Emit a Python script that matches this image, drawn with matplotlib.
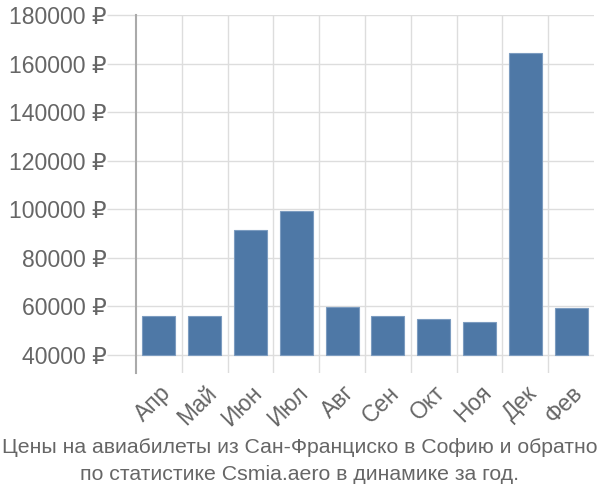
import matplotlib
matplotlib.use('Agg')
import matplotlib.pyplot as plt
from matplotlib.ticker import FixedLocator, FuncFormatter

months = ['Апр', 'Май', 'Июн', 'Июл', 'Авг', 'Сен', 'Окт', 'Ноя', 'Дек', 'Фев']
prices = [56000, 56000, 91300, 99200, 59700, 56000, 54700, 53400, 164200, 59300]
yticks = [40000, 60000, 80000, 100000, 120000, 140000, 160000, 180000]
base = 40000

title = 'Цены на авиабилеты из Сан-Франциско в Софию и обратно\nпо статистике Csmia.aero в динамике за год.'

text_col = '#666666'
grid_col = '#dddddd'

plt.rcParams['font.family'] = ['Liberation Sans', 'DejaVu Sans']

fig = plt.figure(figsize=(6, 5), dpi=100)
ax = fig.add_axes([136 / 600, 1 - 373 / 500, 458 / 600, 358 / 500])

x = list(range(len(months)))
ax.bar(x, [p - base for p in prices], bottom=base, width=0.72,
       color='#4e78a6', edgecolor='#7c9cc0', linewidth=0.8, zorder=3)

ax.set_xlim(-0.5, len(months) - 0.5)
ax.set_ylim(32600, 180000)

ax.yaxis.set_major_locator(FixedLocator(yticks))
ax.yaxis.set_major_formatter(FuncFormatter(lambda v, p: f'{int(v)} ₽'))
ax.set_xticks(x)
ax.set_xticklabels(months, rotation=45, ha='right', rotation_mode='anchor')
ax.set_xticks([i - 0.5 for i in range(1, len(months))], minor=True)

ax.grid(True, axis='y', color=grid_col, linewidth=1, zorder=0)
ax.grid(True, axis='x', which='minor', color=grid_col, linewidth=1, zorder=0)

ax.tick_params(axis='y', length=21, color=grid_col, width=1, labelsize=16.6, labelcolor=text_col, pad=0)
ax.tick_params(axis='x', which='major', length=0, labelsize=16.5, labelcolor=text_col, pad=6)
ax.tick_params(axis='x', which='minor', length=0)

for s in ['top', 'right', 'bottom']:
    ax.spines[s].set_visible(False)
ax.spines['left'].set_color('#aaaaaa')
ax.spines['left'].set_linewidth(1.5)

fig.text(0.5, 1 - 461 / 500, title, ha='center', va='center', fontsize=15.3,
         color=text_col, linespacing=1.5)

fig.savefig('out.png', dpi=100)
